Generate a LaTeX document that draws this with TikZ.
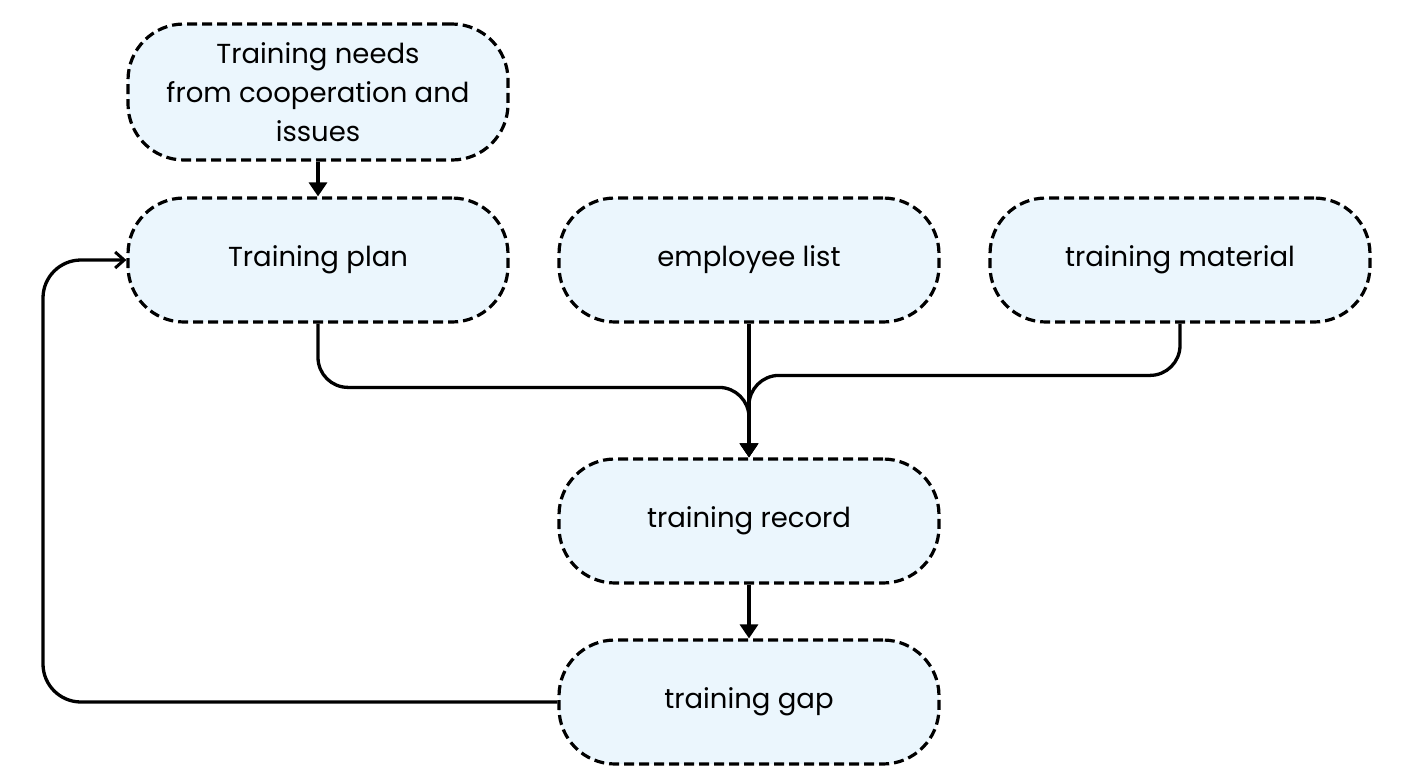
\documentclass[tikz,border=0pt]{standalone}
\usepackage{fontspec}
\setmainfont{Poppins}
\usetikzlibrary{arrows.meta,calc}
\definecolor{boxfill}{HTML}{EBF6FD}
\tikzset{
  box/.style={draw=black, fill=boxfill, line width=3.2pt, dash pattern=on 10pt off 5pt,
    rounded corners=56pt, minimum width=380pt, minimum height=124pt, align=center,
    font=\fontsize{27.5}{39}\selectfont, inner sep=2pt},
  conn/.style={line width=3.3pt, rounded corners=30pt},
  tri/.style={-{Triangle[length=14pt,width=18pt]}},
  opn/.style={-{Straight Barb[length=9pt,width=16pt,line width=3pt]}}
}
\begin{document}
\begin{tikzpicture}[x=1pt,y=-1pt]
\useasboundingbox (0,0) rectangle (1414,782);
\node[box, minimum height=136pt] (needs) at (318,92) {Training needs\\from cooperation and\\issues};
\node[box] (plan) at (318,260) {Training plan};
\node[box] (emp) at (749,260) {employee list};
\node[box] (mat) at (1180,260) {training material};
\node[box] (rec) at (749,521) {training record};
\node[box] (gap) at (749,702) {training gap};
\coordinate (loop) at (43,500);
\draw[conn,tri] (needs.south) -- (plan.north);
\draw[conn,tri] (plan.south) |- ($(rec.north)+(0,-70)$) -- (rec.north);
\draw[conn,tri] (mat.south) |- ($(rec.north)+(0,-82)$) -- (rec.north);
\draw[conn,tri] (emp.south) -- (rec.north);
\draw[conn,tri] (rec.south) -- (gap.north);
\draw[conn,opn,rounded corners=38pt] (gap.west) -| (loop) |- (plan.west);
\end{tikzpicture}
\end{document}
